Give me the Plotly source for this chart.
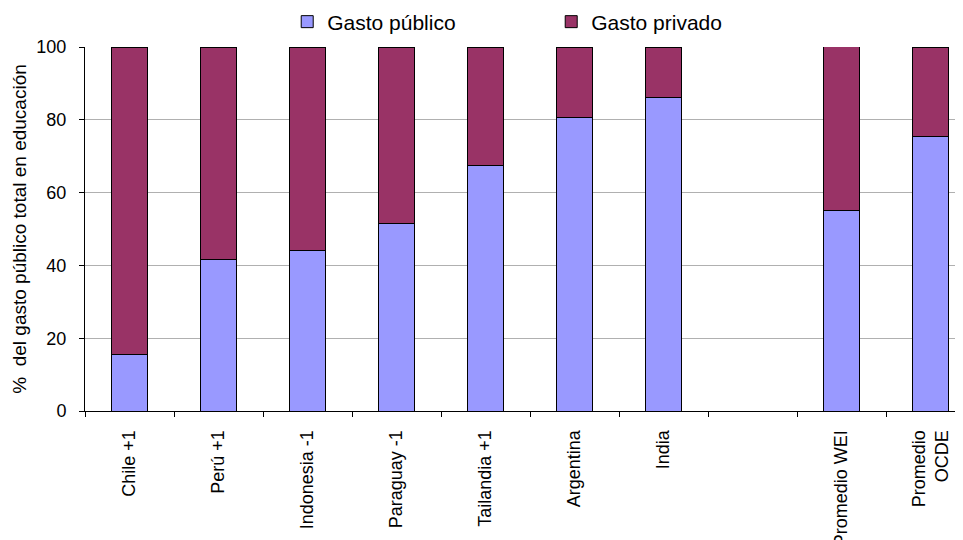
import plotly.graph_objects as go

categories = ["Chile +1", "Perú +1", "Indonesia -1", "Paraguay -1", "Tailandia +1",
              "Argentina", "India", " ", "Promedio WEI", "Promedio<br>OCDE"]
gasto_publico = [15.5, 41.5, 44.0, 51.5, 67.5, 80.5, 86.0, None, 55.2, 75.5]
gasto_privado = [84.5, 58.5, 56.0, 48.5, 32.5, 19.5, 14.0, None, 45.5, 24.5]
y_ticks = [0, 20, 40, 60, 80, 100]

FONT = "Liberation Sans, Arial, sans-serif"

fig = go.Figure()
fig.add_trace(go.Bar(x=categories, y=gasto_publico, name="Gasto público",
                     marker=dict(color="#9999FF", line=dict(color="#000000", width=1)),
                     width=0.4))
fig.add_trace(go.Bar(x=categories, y=gasto_privado, name="Gasto privado",
                     marker=dict(color="#993366", line=dict(color="#000000", width=1)),
                     width=0.4))

# page body has an 8px margin; figure sized to fit the 963x540 window
fig.update_layout(
    barmode="stack",
    width=955, height=532,
    margin=dict(l=77, r=0, t=39, b=129, autoexpand=False),
    paper_bgcolor="white", plot_bgcolor="white",
    font=dict(family=FONT, size=18, color="#000000"),
    showlegend=True,
    legend=dict(orientation="h", x=0.531, xanchor="center", y=1.0687, yanchor="middle",
                font=dict(size=21), traceorder="normal",
                entrywidth=219, entrywidthmode="pixels", bgcolor="rgba(0,0,0,0)"),
    xaxis=dict(type="category", range=[-0.5, 9.365], tickangle=-90, automargin=False,
               tickson="boundaries", ticks="outside", ticklen=5, tickcolor="#000000",
               showline=True, linecolor="#000000", linewidth=1,
               showgrid=False, ticklabelstandoff=11, tickfont=dict(size=18)),
    yaxis=dict(range=[0, 100], tickvals=y_ticks, ticks="outside", ticklen=5, automargin=False,
               tickcolor="#000000", showline=True, linecolor="#000000", linewidth=1,
               showgrid=True, gridcolor="#B0B0B0", gridwidth=1, zeroline=False,
               ticklabelstandoff=9, tickfont=dict(size=18),
               title=dict(text="%  del gasto público total en educación",
                          font=dict(size=19), standoff=4)),
)

fig.write_html("out.html")
